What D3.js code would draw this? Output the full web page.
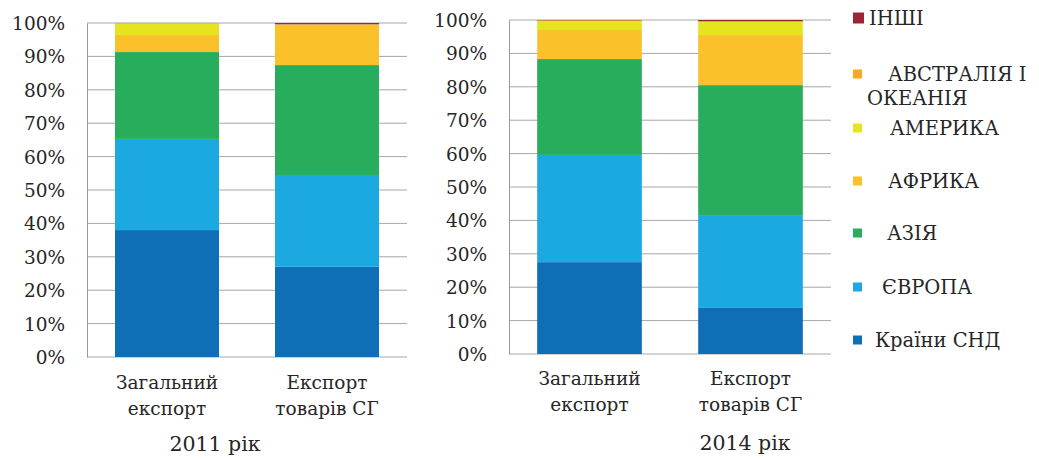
<!DOCTYPE html>
<html><head><meta charset="utf-8">
<script src="https://cdn.jsdelivr.net/npm/d3@7"></script>
<style>body{margin:0;background:#fff}svg{display:block}svg text{font-family:"DejaVu Serif",serif !important;fill:#262626}</style>
</head><body><svg id="c" width="1039" height="459"></svg>
<script>
const categories = ["Загальний експорт", "Експорт товарів СГ"];
const categoryLines = [["Загальний", "експорт"], ["Експорт", "товарів СГ"]];
const seriesNames = ["Країни СНД", "ЄВРОПА", "АЗІЯ", "АФРИКА", "АМЕРИКА", "АВСТРАЛІЯ І ОКЕАНІЯ", "ІНШІ"];
const seriesColors = ["#0f6fb6", "#1ca9e1", "#27ad5b", "#fbc12b", "#e4e51e", "#f8a825", "#9c2535"];
const tickValues = [0, 10, 20, 30, 40, 50, 60, 70, 80, 90, 100];
const yearLabels = ["2011 рік", "2014 рік"];
// values per series: [Загальний експорт, Експорт товарів СГ]
const cis2011 = [38.0, 27.0];
const europe2011 = [27.3, 27.5];
const asia2011 = [26.0, 32.9];
const africa2011 = [5.1, 12.0];
const america2011 = [3.4, 0.1];
const australia2011 = [0.2, 0.1];
const other2011 = [0.0, 0.4];
const cis2014 = [27.5, 13.8];
const europe2014 = [32.1, 27.8];
const asia2014 = [28.7, 38.9];
const africa2014 = [8.7, 15.0];
const america2014 = [2.6, 4.0];
const australia2014 = [0.3, 0.1];
const other2014 = [0.1, 0.4];

const data2011 = [cis2011, europe2011, asia2011, africa2011, america2011, australia2011, other2011];
const data2014 = [cis2014, europe2014, asia2014, africa2014, america2014, australia2014, other2014];

const FONT = '"DejaVu Serif", serif';
const svg = d3.select("#c");

function rows(series) {
  return categories.map((c, i) => {
    const r = {cat: c};
    seriesNames.forEach((s, j) => r[s] = series[j][i]);
    return r;
  });
}

function panel(series, x0, x1, yTop, yBot, labelY, yearX, yearY, yearText) {
  const x = d3.scaleBand().domain(categories).range([x0, x1]).paddingInner(0.35).paddingOuter(0.175);
  const y = d3.scaleLinear().domain([0, 100]).range([yBot, yTop]);
  const g = svg.append("g");
  g.append("g").selectAll("line").data(tickValues).join("line")
    .attr("x1", x0).attr("x2", x1)
    .attr("y1", d => y(d)).attr("y2", d => y(d))
    .attr("stroke", "#a6a6a6").attr("stroke-width", 1);
  const stack = d3.stack().keys(seriesNames)(rows(series));
  g.append("g").selectAll("g").data(stack).join("g")
    .attr("fill", (d, i) => seriesColors[i])
    .selectAll("rect").data(d => d).join("rect")
    .attr("x", d => x(d.data.cat))
    .attr("width", x.bandwidth())
    .attr("y", d => y(d[1]))
    .attr("height", d => Math.max(0, y(d[0]) - y(d[1])));
  const ax = g.append("g").attr("transform", `translate(${x0},0)`)
    .call(d3.axisLeft(y).tickValues(tickValues).tickSize(0).tickPadding(22).tickFormat(d => d + "%"));
  ax.attr("font-family", null).attr("font-size", null);
  ax.select(".domain").attr("stroke", "#9a9a9a");
  ax.selectAll("text").attr("dy", "0.35em")
    .attr("text-anchor", "end").style("font-size", "18.5px")
    .style("font-family", FONT).attr("fill", "#262626");
  categoryLines.forEach((lines, i) => {
    const cx = x(categories[i]) + x.bandwidth() / 2;
    lines.forEach((t, k) => {
      g.append("text").attr("text-anchor", "middle").style("font-size", "18.5px").style("font-family", FONT)
        .attr("x", cx).attr("y", labelY + k * 26)
        .attr("dy", "0.35em").text(t);
    });
  });
  g.append("text").attr("text-anchor", "middle").style("font-size", "20.5px").style("font-family", FONT)
    .attr("x", yearX).attr("y", yearY)
    .attr("dy", "0.35em").text(yearText);
}

panel(data2011, 87, 407, 23, 357, 383, 215, 444, yearLabels[0]);
panel(data2014, 509, 831, 20, 354, 379, 745, 443, yearLabels[1]);

const legendItems = [
  {i: 6, lines: ["ІНШІ"], y: 18, tx: 869, sq: 11},
  {i: 5, lines: ["АВСТРАЛІЯ І", "ОКЕАНІЯ"], y: 74, tx: 888, tx2: 867, sq: 9},
  {i: 4, lines: ["АМЕРИКА"], y: 128, tx: 890, sq: 9},
  {i: 3, lines: ["АФРИКА"], y: 181, tx: 888, sq: 9},
  {i: 2, lines: ["АЗІЯ"], y: 233, tx: 887, sq: 9},
  {i: 1, lines: ["ЄВРОПА"], y: 287, tx: 882, sq: 9},
  {i: 0, lines: ["Країни СНД"], y: 340, tx: 875, sq: 9}
];
const lg = svg.append("g");
legendItems.forEach(it => {
  lg.append("rect").attr("x", 853).attr("y", it.y - it.sq / 2).attr("width", it.sq).attr("height", it.sq)
    .attr("fill", seriesColors[it.i]);
  it.lines.forEach((t, k) => {
    lg.append("text").style("font-size", "19.5px").style("font-family", FONT)
      .attr("x", k === 0 ? it.tx : it.tx2).attr("y", it.y + k * 24)
      .attr("dy", "0.35em").text(t);
  });
});
</script></body></html>
